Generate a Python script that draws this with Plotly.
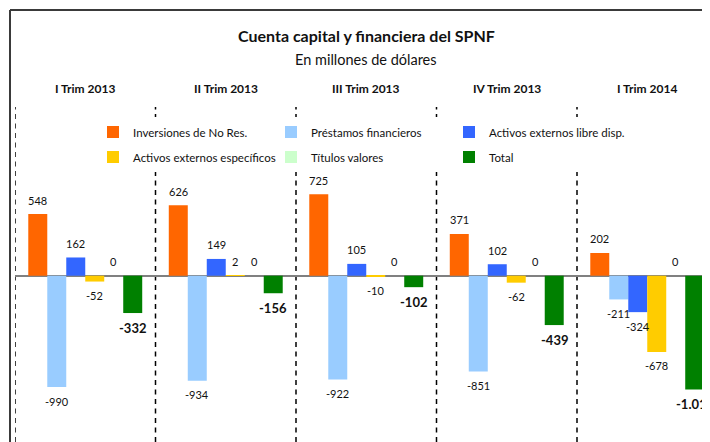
import plotly.graph_objects as go

quarters = ["I Trim 2013", "II Trim 2013", "III Trim 2013", "IV Trim 2013", "I Trim 2014"]
series_names = ["Inversiones de No Res.", "Préstamos financieros", "Activos externos libre disp.",
                "Activos externos específicos", "Títulos valores", "Total"]
inversiones = [548, 626, 725, 371, 202]
prestamos = [-990, -934, -922, -851, -211]
activos_libre = [162, 149, 105, 102, -324]
activos_especificos = [-52, 2, -10, -62, -678]
titulos = [0, 0, 0, 0, 0]
total = [-332, -156, -102, -439, -1011]
series_values = [inversiones, prestamos, activos_libre, activos_especificos, titulos, total]
colors = ["#FF6600", "#99CCFF", "#3366FF", "#FFCC00", "#CCFFCC", "#008000"]

FONT = "Lato"
OFF = 8  # page body margin offset in the browser
W, H = 710 - OFF, 442 - OFF
ML, MT = 15 - OFF, 107 - OFF
PW, PH = W - ML, H - MT
GROUP_PX = 140.5
BARGAP = 0.189
BAR_PX = GROUP_PX * (1 - BARGAP) / 6
ZERO_PY = 275.7 - OFF


def fmt(v):
    s = f"{abs(v):,}".replace(",", ".")
    return ("-" if v < 0 else "") + s


def sx(px):
    """screen x pixel -> paper coordinate"""
    return (px - OFF - ML) / PW


def sy(py):
    """screen y pixel -> paper coordinate"""
    return (H - (py - OFF)) / PH


fig = go.Figure()
for i, (name, vals, col) in enumerate(zip(series_names, series_values, colors)):
    fig.add_trace(go.Bar(
        x=quarters, y=vals, name=name, marker=dict(color=col, line=dict(width=0)),
        legend="legend" if i < 3 else "legend2", hoverinfo="skip",
    ))

annotations = []
for i, (name, vals) in enumerate(zip(series_names, series_values)):
    is_total = name == "Total"
    for q, v in zip(quarters, vals):
        label = "<b>" + fmt(v) + "</b>" if is_total else fmt(v)
        off = 14 if v >= 0 else -14
        if is_total:
            off += 1 if v >= 0 else -1
        annotations.append(dict(
            x=q, xref="x", y=v, yref="y", text=label, showarrow=False,
            xshift=(i - 2.5) * BAR_PX, yshift=off,
            font=dict(family=FONT, size=13 if is_total else 11, color="#111111"),
            xanchor="center", yanchor="middle",
        ))

for q in quarters:
    annotations.append(dict(x=q, xref="x", y=sy(89), yref="paper", text="<b>" + q + "</b>",
                            showarrow=False, font=dict(family=FONT, size=12, color="#111111"),
                            xanchor="center", yanchor="middle"))

annotations.append(dict(x=sx(366), xref="paper", y=sy(35), yref="paper",
                        text="<b>Cuenta capital y financiera del SPNF</b>", showarrow=False,
                        font=dict(family=FONT, size=16, color="#111111"), xanchor="center", yanchor="middle"))
annotations.append(dict(x=sx(366), xref="paper", y=sy(59), yref="paper",
                        text="En millones de dólares", showarrow=False,
                        font=dict(family=FONT, size=14.5, color="#111111"), xanchor="center", yanchor="middle"))

shapes = []
for k in range(len(quarters)):
    shapes.append(dict(type="line", xref="x", yref="paper", x0=k - 0.5, x1=k - 0.5, y0=0, y1=1,
                       line=dict(color="#000000", width=1.5, dash="5px,4.5px"), layer="below"))
# white area behind legend
shapes.append(dict(type="rect", xref="paper", yref="paper",
                   x0=sx(100), x1=sx(625), y0=sy(168), y1=sy(117),
                   fillcolor="white", line=dict(width=0), layer="below"))
# frame
shapes.append(dict(type="line", xref="paper", yref="paper", x0=sx(10), x1=sx(760),
                   y0=sy(10), y1=sy(10), line=dict(color="#3a3a3a", width=2)))
shapes.append(dict(type="line", xref="paper", yref="paper", x0=sx(10), x1=sx(10),
                   y0=sy(10), y1=sy(480), line=dict(color="#3a3a3a", width=2)))

legend_common = dict(orientation="h", entrywidth=133, entrywidthmode="pixels", itemwidth=30,
                     x=sx(93), xanchor="left", yanchor="middle", bgcolor="white",
                     borderwidth=0, font=dict(family=FONT, size=11.5, color="#111111"),
                     itemclick=False, itemdoubleclick=False)

scale = (ZERO_PY - MT) / 1500.0

fig.update_layout(
    width=W, height=H, margin=dict(l=ML, r=0, t=MT, b=0, pad=0),
    paper_bgcolor="white", plot_bgcolor="rgba(0,0,0,0)",
    barmode="group", bargap=BARGAP, bargroupgap=0,
    showlegend=True,
    legend=dict(y=sy(132), **legend_common),
    legend2=dict(y=sy(157), **legend_common),
    xaxis=dict(type="category", range=[-0.5, -0.5 + PW / GROUP_PX], showticklabels=False,
               showgrid=False, zeroline=False, showline=False, ticks=""),
    yaxis=dict(range=[-(H - ZERO_PY) / scale, 1500],
               showticklabels=False, showgrid=False, zeroline=True,
               zerolinecolor="#808080", zerolinewidth=2, showline=False, ticks=""),
    annotations=annotations, shapes=shapes,
    font=dict(family=FONT),
)

fig.write_html("out.html")
